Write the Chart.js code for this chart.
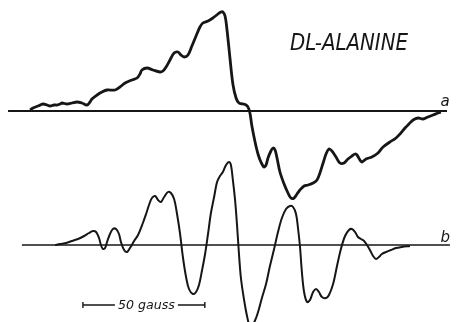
<!DOCTYPE html>
<html>
<head>
<meta charset="utf-8">
<title>DL-Alanine</title>
<script src="https://cdn.jsdelivr.net/npm/chart.js@4.4.1/dist/chart.umd.min.js"></script>
<style>
  html, body { margin: 0; padding: 0; background: #fff; }
  #spectra { display: block; }
</style>
</head>
<body>
<canvas id="spectra" width="456" height="322"></canvas>
<script>
// field offset from the line centre (gauss) and recorder deflection (arb. units)
const fieldA = [-85.3, -84.1, -82.0, -80.0, -78.3, -77.1, -75.4, -74.2, -73.0, -72.2, -70.1, -68.1, -66.0, -64.0, -61.9,
    -60.7, -59.9, -57.8, -55.8, -53.7, -50.4, -48.4, -46.3, -43.5, -41.4, -40.2, -39.4, -37.3, -34.9, -32.0, -30.8,
    -29.5, -27.9, -26.2, -24.6, -23.4, -22.1, -20.5, -18.9, -17.2, -15.6, -14.4, -12.3, -10.3, -8.2, -7.0, -6.2, -5.3,
    -4.5, -3.3, -2.1, -0.8, 0.4, 2.1, 3.3, 4.1, 4.9, 5.7, 7.0, 8.2, 9.4, 10.7, 11.5, 12.3, 13.5, 14.4, 15.2, 16.0,
    17.2, 18.9, 20.5, 21.7, 23.0, 24.2, 25.4, 27.1, 28.7, 30.8, 32.4, 33.6, 34.9, 36.1, 37.3, 38.5, 40.2, 41.8, 43.5,
    45.1, 46.7, 48.0, 48.8, 50.0, 50.8, 52.5, 54.9, 57.4, 59.5, 62.3, 64.8, 66.8, 68.5, 70.1, 71.8, 73.8, 75.9, 77.9,
    80.0, 82.0, 83.2];
const signalA = [1, 3, 5, 7, 6, 5, 6, 6, 7, 8, 7, 8, 9, 8, 6,
    9, 12, 16, 19, 21, 21, 24, 28, 31, 33, 37, 41, 43, 41, 39, 40,
    44, 51, 58, 59, 56, 54, 56, 65, 75, 84, 88, 90, 93, 97, 99, 99, 95,
    81, 53, 27, 13, 8, 7, 6, 4, -2, -15, -31, -43, -51, -56, -54, -47, -40, -37, -39, -47,
    -61, -73, -82, -87, -87, -83, -79, -75, -74, -72, -69, -62, -52, -43, -38, -40, -46, -52, -52,
    -48, -45, -43, -44, -49, -51, -48, -46, -42, -36, -31, -27, -22, -17, -13, -9, -7, -8, -6,
    -4, -2, -1];

const fieldB = [-75.0, -73.0, -70.5, -68.1, -65.6, -63.1, -61.1, -59.5, -58.2, -57.0, -56.2, -55.4, -54.5, -53.7, -52.5,
    -51.3, -50.0, -48.8, -48.0, -46.7, -45.5, -44.3, -42.6, -41.0, -39.0, -37.7, -36.5, -35.3, -34.0, -32.8, -31.6,
    -30.3, -28.7, -27.5, -26.2, -25.0, -23.8, -22.6, -21.3, -20.1, -18.5, -17.2, -16.0, -14.8, -13.5, -12.3, -11.1,
    -9.8, -8.6, -7.4, -6.2, -4.9, -3.7, -2.9, -2.1, -1.2, -0.4, 0.4, 1.2, 2.5, 3.7, 4.9, 6.2, 7.4, 8.6, 9.8, 11.5,
    13.1, 14.8, 16.4, 18.0, 19.7, 21.3, 22.6, 23.8, 24.6, 25.4, 26.2, 27.1, 28.3, 29.5, 30.8, 32.0, 33.2, 34.4, 36.1,
    37.3, 39.0, 40.6, 42.2, 43.9, 45.5, 46.7, 48.0, 49.2, 50.4, 51.7, 52.9, 54.1, 55.4, 56.6, 57.8, 59.0, 60.7, 62.7,
    64.8, 67.2, 70.5];
const signalB = [0, 1, 2, 4, 6, 9, 12, 14, 13, 7, 0, -4, -3, 3, 11,
    16, 16, 11, 3, -5, -7, -3, 4, 10, 22, 31, 40, 47, 49, 45, 43,
    48, 53, 52, 46, 31, 12, -12, -32, -44, -49, -47, -40, -26, -9, 11, 32,
    48, 63, 69, 73, 80, 83, 80, 65, 45, 20, -9, -33, -55, -71, -81, -79, -73, -64, -53, -39,
    -21, -4, 13, 27, 36, 39, 38, 31, 17, -1, -27, -47, -57, -55, -47, -44, -47, -52, -53,
    -50, -39, -21, -4, 9, 15, 16, 13, 8, 6, 4, 0, -5, -11, -14, -12, -9, -7, -5,
    -3, -2, -1];

// zero lines of both traces
const baseA = [-94.3, 85.7];
const baseB = [-88.6, 86.9];

// field marker
const barStart = -63.6;
const barLength = 50;
const barLevel = -60;

const ink = '#161616';

function points(xs, ys) {
    return xs.map(function (x, i) { return {x: x, y: ys[i]}; });
}

const textPlugin = {
    id: 'figureText',
    afterDraw: function (chart) {
        const ctx = chart.ctx;
        const x = chart.scales.x;
        const yb = chart.scales.yB;
        const ya = chart.scales.yA;

        // draws text squeezed into a given width
        function fitText(str, font, left, baseline, width) {
            ctx.save();
            ctx.font = font;
            const w = ctx.measureText(str).width;
            ctx.translate(left, baseline);
            ctx.scale(width / w, 1);
            ctx.fillStyle = ink;
            ctx.textBaseline = 'alphabetic';
            ctx.fillText(str, 0, 0);
            ctx.restore();
        }

        fitText('DL-ALANINE', 'italic 23px "DejaVu Sans"', 290, 50, 118);

        ctx.save();
        ctx.fillStyle = ink;
        ctx.font = 'italic 15px "DejaVu Sans"';
        ctx.textBaseline = 'alphabetic';
        ctx.fillText('a', x.getPixelForValue(83), ya.getPixelForValue(0) - 5);
        ctx.fillText('b', x.getPixelForValue(83), yb.getPixelForValue(0) - 3);
        ctx.restore();

        // 50 gauss bar with the label set into a gap
        const left = x.getPixelForValue(barStart);
        const right = x.getPixelForValue(barStart + barLength);
        const yPix = yb.getPixelForValue(barLevel);
        const labelLeft = left + 35;
        const labelWidth = 57;
        ctx.save();
        ctx.strokeStyle = ink;
        ctx.lineWidth = 1.4;
        ctx.beginPath();
        ctx.moveTo(left, yPix);
        ctx.lineTo(labelLeft - 3, yPix);
        ctx.moveTo(labelLeft + labelWidth + 3, yPix);
        ctx.lineTo(right, yPix);
        ctx.moveTo(left, yPix - 3);
        ctx.lineTo(left, yPix + 3);
        ctx.moveTo(right, yPix - 3);
        ctx.lineTo(right, yPix + 3);
        ctx.stroke();
        ctx.restore();
        fitText('50 gauss', 'italic 13px "DejaVu Sans"', labelLeft, yPix + 4, labelWidth);
    }
};

new Chart(document.getElementById('spectra'), {
    type: 'line',
    data: {
        datasets: [
            {
                data: points(baseA, [0, 0]),
                yAxisID: 'yA',
                borderColor: ink,
                borderWidth: 1.8,
                tension: 0,
            },
            {
                data: points(baseB, [0, 0]),
                yAxisID: 'yB',
                borderColor: ink,
                borderWidth: 1.7,
                tension: 0,
            },
            {
                data: points(fieldA, signalA),
                yAxisID: 'yA',
                borderColor: ink,
                borderWidth: 2.8,
                tension: 0.35,
            },
            {
                data: points(fieldB, signalB),
                yAxisID: 'yB',
                borderColor: ink,
                borderWidth: 2.0,
                tension: 0.35,
            },
        ]
    },
    options: {
        responsive: false,
        animation: false,
        devicePixelRatio: 1,
        layout: {padding: 0},
        elements: {point: {radius: 0}},
        plugins: {
            legend: {display: false},
            tooltip: {enabled: false},
        },
        scales: {
            x: {type: 'linear', min: -97.6, max: 89.4, display: false},
            yA: {type: 'linear', min: -211, max: 111, display: false},
            yB: {type: 'linear', min: -77, max: 245, display: false},
        },
    },
    plugins: [textPlugin],
});
</script>
</body>
</html>
